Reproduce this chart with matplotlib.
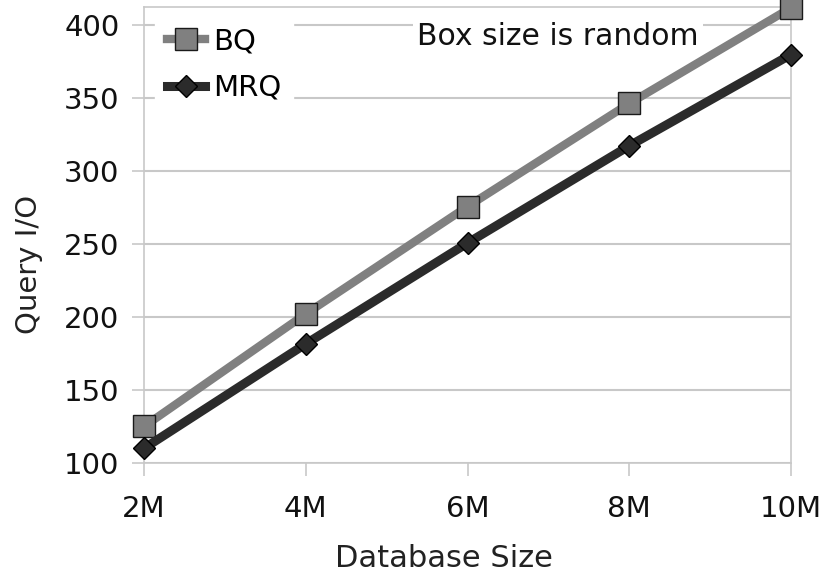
import matplotlib
matplotlib.use("Agg")
import matplotlib.pyplot as plt

plt.rcParams['font.family'] = ['DejaVu Sans']

categories = ["2M", "4M", "6M", "8M", "10M"]
bq = [125, 202, 275.5, 346, 411.5]
mrq = [110, 181.5, 250.5, 317, 379.5]
yticks = [100, 150, 200, 250, 300, 350, 400]

fig = plt.figure(figsize=(8.29, 5.75), dpi=100)
ax = fig.add_axes([0.1737, 0.1948, 0.9542 - 0.1737, 0.9878 - 0.1948])

x = list(range(len(categories)))
grid_c = '#c8c8c8'
ax.plot(x, bq, color='#808080', lw=6, marker='s', ms=16, mfc='#808080',
        mec='#1a1a1a', mew=1.0, clip_on=False, zorder=3, label='BQ')
ax.plot(x, mrq, color='#2b2b2b', lw=6.5, marker='D', ms=11.5, mfc='#2b2b2b',
        mec='#000000', mew=1.0, clip_on=False, zorder=4, label='MRQ')

ax.set_xlim(0, len(categories) - 1)
ax.set_ylim(100, 412)
ax.set_xticks(x)
ax.set_xticklabels(categories)
ax.set_yticks(yticks)
ax.yaxis.grid(True, color=grid_c, lw=1.5)
ax.set_axisbelow(True)
for s in ['left', 'right', 'top', 'bottom']:
    ax.spines[s].set_color(grid_c)
    ax.spines[s].set_linewidth(1.2)
ax.tick_params(axis='both', colors=grid_c, labelcolor='#111111', labelsize=21,
               length=9, width=1.2)
ax.tick_params(axis='x', pad=14)
ax.tick_params(axis='y', pad=8.6)

ax.set_xlabel("Database Size", fontsize=22, color='#222222')
ax.set_ylabel("Query I/O", fontsize=21, color='#222222')
ax.xaxis.set_label_coords(0.464, -0.178)
ax.yaxis.set_label_coords(-0.156, 0.436)

leg = ax.legend(loc='upper left', bbox_to_anchor=(0.0175, 0.981), fontsize=21,
                frameon=True, handlelength=1.3, handletextpad=0.27,
                labelspacing=0.63, borderpad=0.4, borderaxespad=0.0)
leg.get_frame().set_facecolor('white')
leg.get_frame().set_edgecolor('white')
leg.get_frame().set_alpha(1)
leg.get_frame().set_boxstyle('square', pad=0)

ax.text(0.640, 0.9167, "Box size is random", transform=ax.transAxes, fontsize=21.5,
        color='#111111', ha='center', va='baseline', zorder=5,
        bbox=dict(facecolor='white', edgecolor='none', pad=3))

fig.savefig("out.png", dpi=100)
